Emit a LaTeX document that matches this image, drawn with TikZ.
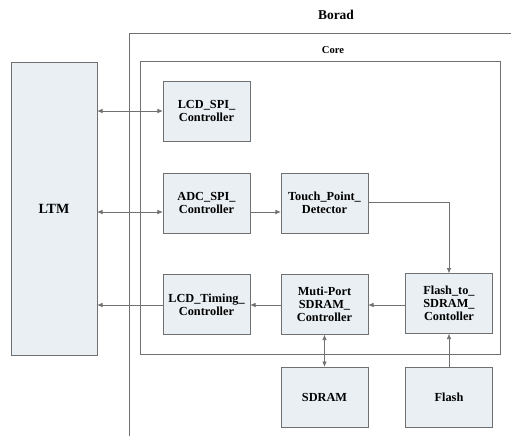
\documentclass[tikz,border=0pt]{standalone}
\usepackage{fontspec}
\setmainfont{Liberation Serif}
\usetikzlibrary{positioning,arrows.meta,calc}
\definecolor{boxfill}{HTML}{E9EFF3}
\definecolor{edge}{HTML}{707070}
\begin{document}
\begin{tikzpicture}[
    x=0.03cm, y=-0.03cm,
    blk/.style={draw=edge, fill=boxfill, minimum width=2.61cm, minimum height=1.8cm, align=center, font=\fontsize{10.5}{11}\selectfont\bfseries, inner sep=1pt},
    arr/.style={-{Latex[length=4.5pt,width=4pt]}, edge, semithick},
    darr/.style={{Latex[length=4.5pt,width=4pt]}-{Latex[length=4.5pt,width=4pt]}, edge, semithick}
  ]
    \useasboundingbox (0,0) rectangle (511,436);
    % board and core frames
    \draw[edge] (511,33) -- (129,33) -- (129,436);
    \node[font=\fontsize{11.5}{12}\selectfont\bfseries] (boardlbl) at (336,15) {Borad};
    \draw[edge] (140,61) rectangle (500,354);
    \node[font=\small\bfseries] (corelbl) at (333,50) {Core};

    \node[draw=edge, fill=boxfill, minimum width=2.58cm, minimum height=8.8cm, font=\large\bfseries] (ltm) at (54,209) {LTM};

    \node[blk] (lcdspi) at (206.5,111) {LCD\_SPI\_\\Controller};
    \node[blk] (adcspi) at (206.5,203) {ADC\_SPI\_\\Controller};
    \node[blk] (touch) at (324.5,203) {Touch\_Point\_\\Detector};
    \node[blk] (lcdtim) at (206.5,304.5) {LCD\_Timing\_\\Controller};
    \node[blk] (muti) at (324.5,304.5) {Muti-Port\\SDRAM\_\\Controller};
    \node[blk] (f2s) at (449,303.5) {Flash\_to\_\\SDRAM\_\\Contoller};
    \node[blk] (sdram) at (324.5,397) {SDRAM};
    \node[blk] (flash) at (449,397) {Flash};

    \draw[darr] (ltm.east |- lcdspi) -- (lcdspi.west);
    \draw[darr] (ltm.east |- 0,212) -- (adcspi.west |- 0,212);
    \draw[arr] (adcspi.east |- 0,212) -- (touch.west |- 0,212);
    \draw[arr] (touch.east |- 0,202) -| (f2s.north);
    \draw[arr] (f2s.west |- 0,305) -- (muti.east |- 0,305);
    \draw[arr] (muti.west |- 0,305) -- (lcdtim.east |- 0,305);
    \draw[arr] (lcdtim.west |- 0,305) -- (ltm.east |- 0,305);
    \draw[darr] (muti.south) -- (sdram.north);
    \draw[arr] (flash.north) -- (f2s.south);
\end{tikzpicture}
\end{document}
